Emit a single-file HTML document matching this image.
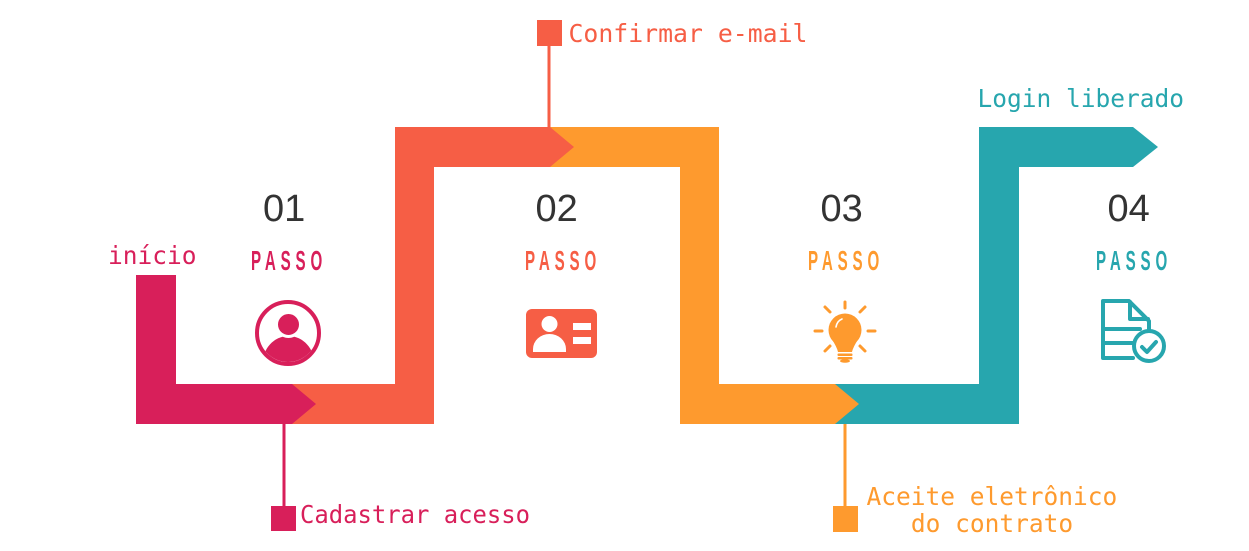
<!DOCTYPE html>
<html>
<head>
<meta charset="utf-8">
<style>
html,body{margin:0;padding:0;background:#fff;}
body{width:1249px;height:551px;overflow:hidden;}
svg{display:block;}
.mono{font-family:"DejaVu Sans Mono","Liberation Mono",monospace;font-size:24.5px;}
.num{font-family:"Liberation Sans",sans-serif;font-size:38px;fill:#333;}
.passo{font-family:"Liberation Sans",sans-serif;font-weight:bold;font-size:28px;letter-spacing:9px;}
</style>
</head>
<body>
<svg width="1249" height="551" viewBox="0 0 1249 551" xmlns="http://www.w3.org/2000/svg">
  <rect width="1249" height="551" fill="#fff"/>

  <!-- teal segment -->
  <polygon fill="#27A6AE" points="815,384 979,384 979,127 1133,127 1158,147 1133,167 1019,167 1019,424 815,424"/>
  <!-- orange segment -->
  <polygon fill="#FE9A2E" points="530,127 719,127 719,384 835,384 859,404 835,424 680,424 680,167 530,167"/>
  <!-- coral segment -->
  <polygon fill="#F65E45" points="253,384 395,384 395,127 550,127 574,147 550,167 434,167 434,424 253,424"/>
  <!-- pink segment -->
  <polygon fill="#D81F5A" points="136,275 176,275 176,384 292,384 316,404 292,424 136,424"/>

  <!-- connectors -->
  <rect x="282.5" y="424" width="3" height="84" fill="#D81F5A"/>
  <rect x="271" y="506" width="25" height="25" fill="#D81F5A"/>

  <rect x="547.5" y="44" width="3" height="84" fill="#F65E45"/>
  <rect x="537" y="20" width="25" height="26" fill="#F65E45"/>

  <rect x="843.5" y="424" width="3" height="84" fill="#FE9A2E"/>
  <rect x="833" y="506" width="25" height="26" fill="#FE9A2E"/>

  <!-- labels -->
  <text class="mono" x="108" y="264" fill="#D81F5A">início</text>
  <text class="mono" x="300" y="523" fill="#D81F5A" textLength="230" lengthAdjust="spacingAndGlyphs">Cadastrar acesso</text>
  <text class="mono" x="568.5" y="42" fill="#F65E45" textLength="239" lengthAdjust="spacingAndGlyphs">Confirmar e-mail</text>
  <text class="mono" x="866.5" y="505" fill="#FE9A2E">Aceite eletrônico</text>
  <text class="mono" x="992" y="532" fill="#FE9A2E" text-anchor="middle">do contrato</text>
  <text class="mono" x="977.5" y="107" fill="#27A6AE">Login liberado</text>

  <!-- step numbers -->
  <text class="num" x="263" y="221">01</text>
  <text class="num" x="535.5" y="221">02</text>
  <text class="num" x="820.5" y="221">03</text>
  <text class="num" x="1107.5" y="221">04</text>

  <!-- PASSO -->
  <text class="passo" transform="translate(251,270) scale(0.54,1)" fill="#D81F5A">PASSO</text>
  <text class="passo" transform="translate(525,270) scale(0.54,1)" fill="#F65E45">PASSO</text>
  <text class="passo" transform="translate(808,270) scale(0.54,1)" fill="#FE9A2E">PASSO</text>
  <text class="passo" transform="translate(1096,270) scale(0.54,1)" fill="#27A6AE">PASSO</text>

  <!-- icon 1: user in circle -->
  <defs>
    <clipPath id="c1"><circle cx="288" cy="333" r="29"/></clipPath>
  </defs>
  <circle cx="288" cy="333" r="31" fill="none" stroke="#D81F5A" stroke-width="4"/>
  <g clip-path="url(#c1)">
    <ellipse cx="288.5" cy="364" rx="26" ry="28" fill="#D81F5A"/>
  </g>
  <circle cx="288.5" cy="324.5" r="12" fill="#D81F5A" stroke="#fff" stroke-width="3"/>

  <!-- icon 2: id card -->
  <rect x="526" y="309" width="71" height="49" rx="6" fill="#F65E45"/>
  <circle cx="549.5" cy="324" r="8" fill="#fff"/>
  <path d="M533,352 L533,349 A16.5,15 0 0 1 566,349 L566,352 Z" fill="#fff"/>
  <rect x="573" y="323" width="18" height="7" fill="#fff"/>
  <rect x="573" y="337" width="18" height="7" fill="#fff"/>

  <!-- icon 3: bulb -->
  <g stroke="#FE9A2E" stroke-width="3" stroke-linecap="round">
    <line x1="845" y1="302" x2="845" y2="308"/>
    <line x1="815" y1="331" x2="822" y2="331"/>
    <line x1="868" y1="331" x2="875" y2="331"/>
    <line x1="825" y1="307" x2="830" y2="312"/>
    <line x1="865" y1="307" x2="860" y2="312"/>
    <line x1="825" y1="351" x2="830" y2="346"/>
    <line x1="865" y1="351" x2="860" y2="346"/>
  </g>
  <circle cx="845" cy="330" r="16.5" fill="#FE9A2E"/>
  <path d="M831,338 Q837,347 838,352 L852,352 Q853,347 859,338 Z" fill="#FE9A2E"/>
  <rect x="837.5" y="353.5" width="15" height="2.5" rx="1" fill="#FE9A2E"/>
  <rect x="837.5" y="357" width="15" height="2.5" rx="1" fill="#FE9A2E"/>
  <ellipse cx="845" cy="361" rx="5" ry="1.8" fill="#FE9A2E"/>
  <path d="M836,327 Q837,321 842,319" fill="none" stroke="#fff" stroke-width="1.6" stroke-linecap="round"/>

  <!-- icon 4: document with check -->
  <g fill="none" stroke="#27A6AE" stroke-width="4" stroke-linejoin="round" stroke-linecap="round">
    <path d="M1133,358 L1103,358 L1103,301 L1129,301 L1149,321 L1149,332"/>
    <path d="M1130,302 L1130,319 L1148,319"/>
    <line x1="1105" y1="329" x2="1140" y2="329"/>
    <line x1="1105" y1="343" x2="1133" y2="343"/>
  </g>
  <circle cx="1149" cy="346" r="15" fill="#fff" stroke="#27A6AE" stroke-width="4"/>
  <path d="M1142,347 L1147,352 L1156,342" fill="none" stroke="#27A6AE" stroke-width="4" stroke-linecap="round" stroke-linejoin="round"/>
</svg>
</body>
</html>
